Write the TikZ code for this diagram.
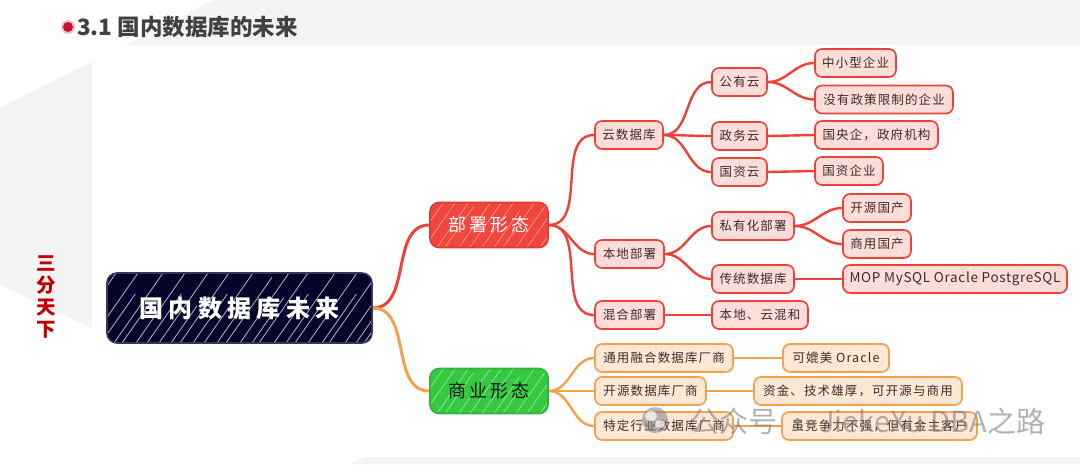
\documentclass[tikz,border=0pt]{standalone}
\usepackage{fontspec}
\setmainfont{Noto Sans CJK SC}
\newfontfamily\hand[LetterSpace=9]{Noto Sans CJK SC}
\newfontfamily\handlatin[LetterSpace=5]{Noto Sans CJK SC}
\newfontfamily\branchfont[LetterSpace=15]{Noto Sans CJK SC}
\newfontfamily\rootfont[LetterSpace=22]{Noto Sans CJK SC}
\usetikzlibrary{calc}
\definecolor{bggray}{HTML}{F3F3F3}
\definecolor{redline}{HTML}{EF4137}
\definecolor{pinkfill}{HTML}{FDDCD8}
\definecolor{orangeline}{HTML}{F5A04C}
\definecolor{peach}{HTML}{FEE7D2}
\definecolor{mainred}{HTML}{F2453B}
\definecolor{maingreen}{HTML}{35C940}
\definecolor{navy}{HTML}{05052C}
\definecolor{txt}{HTML}{3D2B2B}
\definecolor{titlegray}{HTML}{404040}
\definecolor{deepred}{HTML}{C00000}
\definecolor{dotred}{HTML}{C8102E}
\pgfdeclarelayer{bglayer}
\pgfdeclarelayer{links}
\pgfdeclarelayer{toplayer}
\pgfsetlayers{bglayer,links,main,toplayer}
\tikzset{
  hatch/.style={path picture={\foreach \k/\len in {-120/60,-104/90,-95/40,-80/100,-66/55,-55/80,-40/100,-31/45,-18/90,-6/60,7/100,15/50,29/85,40/60,52/100,64/45,73/90,86/60,97/100,110/50,119/80,133/100,145/55,152/90,167/60,179/100,188/45,201/85,215/60,222/100,238/55,249/90,257/60,270/100,284/50,293/85,306/60}{\draw[#1] ($(path picture bounding box.south west)+(\k pt,0pt)$) -- ++(55:\len pt);}}},
  rbox/.style={draw=redline, fill=pinkfill, line width=1.6pt, rounded corners=7pt,
    minimum height=28pt, inner xsep=6pt, inner ysep=0pt, text=txt,
    font=\hand\fontsize{12.5}{14}\selectfont, hatch={white,opacity=.55,line width=.5pt}},
  obox/.style={rbox, draw=orangeline, fill=peach},
  mainbox/.style={line width=1.6pt, rounded corners=9pt, minimum width=118pt, minimum height=45pt,
    inner sep=0pt, font=\branchfont\fontsize{18}{20}\selectfont, hatch={white,opacity=.5,line width=.6pt}},
  rlink/.style={draw=redline, line width=2.4pt},
  olink/.style={draw=orangeline, line width=2.4pt},
}
\begin{document}
\begin{tikzpicture}[x=1pt,y=-1pt]
\useasboundingbox (0,0) rectangle (1080,464);
\begin{pgfonlayer}{bglayer}
  \fill[white] (0,0) rectangle (1080,464);
  \fill[bggray] (213,0) -- (1080,0) -- (1080,45) -- (125,45) -- cycle;
  \fill[bggray] (0,108) -- (92,62) -- (92,328) -- (0,285) -- cycle;
  \fill[bggray] (350,464) -- (365,457) -- (1080,457) -- (1080,464) -- cycle;
\end{pgfonlayer}

% title
\fill[dotred!25] (68,27) circle (7pt);
\node[circle, fill=dotred, minimum size=10pt, inner sep=0pt] (dot) at (68,27) {};
\node[anchor=west, text=titlegray, font=\bfseries\fontsize{22.5}{25}\selectfont, inner sep=0pt] (title) at (77,27) {3.1 国内数据库的未来};
\node[text=deepred, font=\bfseries\fontsize{19.5}{22}\selectfont, align=center, inner sep=0pt] (side) at (46,297) {三\\分\\天\\下};

% root and branches
\node[draw=navy!80!white, fill=navy, line width=1.6pt, rounded corners=10pt, minimum width=265pt, minimum height=70pt,
  inner sep=0pt, text=white, font=\rootfont\bfseries\fontsize{24}{26}\selectfont,
  hatch={white,opacity=.7,line width=.8pt}] (root) at (239.5,308) {国内数据库未来};
\node[mainbox, draw=mainred!90!black, fill=mainred, text=white] (bushu) at (489,225) {部署形态};
\node[mainbox, draw=maingreen!90!black, fill=maingreen, text=black!90] (shangye) at (489,391) {商业形态};

% level 2 red
\node[rbox, minimum width=68pt] (yunsjk) at (629,135) {云数据库};
\node[rbox, minimum width=69pt] (bendi) at (629.5,254) {本地部署};
\node[rbox, minimum width=69pt] (hunhe) at (629.5,315) {混合部署};
% level 3 red
\node[rbox, minimum width=55pt] (gongyou) at (739.5,82) {公有云};
\node[rbox, minimum width=55pt] (zhengwu) at (739.5,136) {政务云};
\node[rbox, minimum width=55pt] (guoziyun) at (739.5,172) {国资云};
\node[rbox, minimum width=82pt] (siyou) at (753,226) {私有化部署};
\node[rbox, minimum width=82pt] (chuantong) at (753,279) {传统数据库};
\node[rbox, minimum width=96pt] (bdyun) at (760,315) {本地、云混和};
% level 4 red
\node[rbox, minimum width=81pt] (zxx) at (855.5,63) {中小型企业};
\node[rbox, minimum width=138pt] (meiyou) at (884,99.5) {没有政策限制的企业};
\node[rbox, minimum width=123pt] (guoyang) at (876.5,135) {国央企，政府机构};
\node[rbox, minimum width=68pt] (gzqy) at (849,171) {国资企业};
\node[rbox, minimum width=68pt] (kygc) at (877,208) {开源国产};
\node[rbox, minimum width=68pt] (sygc) at (877,244) {商用国产};
\node[rbox, minimum width=224pt, font=\handlatin\fontsize{13.5}{15}\selectfont] (mop) at (955,279) {MOP MySQL Oracle PostgreSQL};
% orange
\node[obox, minimum width=138pt] (tongyong) at (664,358) {通用融合数据库厂商};
\node[obox, minimum width=111pt] (kaiyuan) at (650.5,391) {开源数据库厂商};
\node[obox, minimum width=138pt] (teding) at (664,426) {特定行业数据库厂商};
\node[obox, minimum width=106pt] (kepimei) at (836,358) {可媲美 Oracle};
\node[obox, minimum width=208pt] (zijin) at (858,391) {资金、技术雄厚，可开源与商用};
\node[obox, minimum width=195pt] (sui) at (879.5,426) {虽竞争力不强，但有金主客户};

\begin{pgfonlayer}{links}
  \draw[rlink, line width=3pt] (root.east) to[out=0,in=180] (bushu.west);
  \draw[olink, line width=3pt] (root.east) to[out=0,in=180] (shangye.west);
  \foreach \c in {yunsjk,bendi,hunhe} \draw[rlink] (bushu.east) to[out=0,in=180] (\c.west);
  \foreach \c in {gongyou,zhengwu,guoziyun} \draw[rlink] (yunsjk.east) to[out=0,in=180] (\c.west);
  \foreach \c in {zxx,meiyou} \draw[rlink] (gongyou.east) to[out=0,in=180] (\c.west);
  \draw[rlink] (zhengwu.east) -- (guoyang.west);
  \draw[rlink] (guoziyun.east) -- (gzqy.west);
  \foreach \c in {siyou,chuantong} \draw[rlink] (bendi.east) to[out=0,in=180] (\c.west);
  \foreach \c in {kygc,sygc} \draw[rlink] (siyou.east) to[out=0,in=180] (\c.west);
  \draw[rlink] (chuantong.east) -- (mop.west);
  \draw[rlink] (hunhe.east) -- (bdyun.west);
  \foreach \c in {tongyong,kaiyuan,teding} \draw[olink] (shangye.east) to[out=0,in=180] (\c.west);
  \draw[olink] (tongyong.east) -- (kepimei.west);
  \draw[olink] (kaiyuan.east) -- (zijin.west);
  \draw[olink] (teding.east) -- (sui.west);
\end{pgfonlayer}

% watermark
\begin{pgfonlayer}{toplayer}
  \fill[gray, opacity=.55] (655,420) circle (13pt);
  \fill[white, opacity=.7] (651,416) ellipse (6pt and 5pt);
  \fill[white, opacity=.7] (660,424) ellipse (5pt and 4pt);
  \node[anchor=west, text=gray, opacity=.6, font=\fontsize{29}{31}\selectfont, inner sep=0pt] (wm) at (690,421) {公众号 · JiekeXu DBA之路};
\end{pgfonlayer}
\end{tikzpicture}
\end{document}
